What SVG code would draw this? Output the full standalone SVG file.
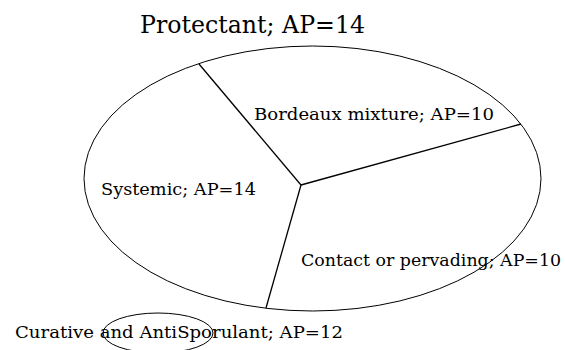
<svg xmlns="http://www.w3.org/2000/svg" width="565" height="350" viewBox="0 0 565 350">
<style>
  .shape { fill: none; stroke: #000; stroke-width: 1; }
  .conn { stroke: #000; stroke-width: 1.3; fill: none; }
  text { font-family: "DejaVu Serif", "Liberation Serif", serif; fill: #000; }
  .lbl { font-size: 17.5px; }
  .title { font-size: 24px; }
</style>
<rect width="565" height="350" fill="#fff"/>
<g id="protectant">
  <ellipse class="shape" cx="312.5" cy="178.5" rx="228.5" ry="132.5"/>
  <text class="title" x="140" y="33" textLength="225" lengthAdjust="spacingAndGlyphs">Protectant; AP=14</text>
</g>
<g id="connectors">
  <line class="conn" x1="301" y1="185" x2="199" y2="64"/>
  <line class="conn" x1="301" y1="185" x2="521" y2="124"/>
  <line class="conn" x1="301" y1="185" x2="266" y2="308"/>
</g>
<g id="bordeaux">
  <text class="lbl" x="254" y="120" textLength="240" lengthAdjust="spacingAndGlyphs">Bordeaux mixture; AP=10</text>
</g>
<g id="systemic">
  <text class="lbl" x="101" y="195" textLength="155" lengthAdjust="spacingAndGlyphs">Systemic; AP=14</text>
</g>
<g id="contact">
  <text class="lbl" x="301" y="266" textLength="260" lengthAdjust="spacingAndGlyphs">Contact or pervading; AP=10</text>
</g>
<g id="curative">
  <ellipse class="shape" cx="158" cy="333" rx="55" ry="20"/>
  <text class="lbl" x="15" y="338" textLength="328" lengthAdjust="spacingAndGlyphs">Curative and AntiSporulant; AP=12</text>
</g>
</svg>
